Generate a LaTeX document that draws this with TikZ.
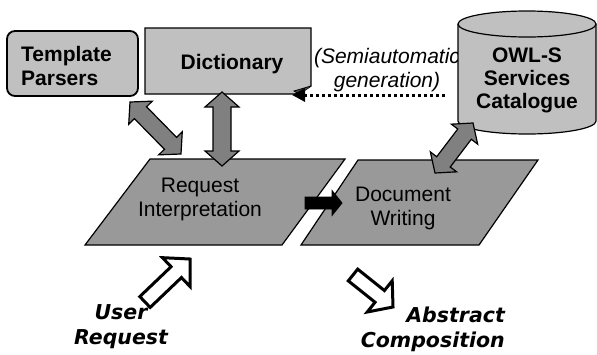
\documentclass[tikz,border=0pt]{standalone}
\usepackage{fontspec}
\setmainfont{Liberation Sans}
\newfontfamily\verafont{DejaVu Sans}
\usetikzlibrary{calc,arrows.meta}

\definecolor{lightbox}{RGB}{192,192,192}
\definecolor{paragray}{RGB}{153,153,153}
\definecolor{arrowgray}{RGB}{128,128,128}

% double block arrow: style, A, B, shaft half width, head half width, head length
\newcommand{\dblblock}[6]{%
  \draw[#1] (#2)
    -- ($(#2)!#6!(#3)!#5!90:(#3)$) -- ($(#2)!#6!(#3)!#4!90:(#3)$)
    -- ($(#3)!#6!(#2)!#4!-90:(#2)$) -- ($(#3)!#6!(#2)!#5!-90:(#2)$)
    -- (#3)
    -- ($(#3)!#6!(#2)!#5!90:(#2)$) -- ($(#3)!#6!(#2)!#4!90:(#2)$)
    -- ($(#2)!#6!(#3)!#4!-90:(#3)$) -- ($(#2)!#6!(#3)!#5!-90:(#3)$)
    -- cycle;}
% single block arrow: style, tail, tip, shaft half width, head half width, head length
\newcommand{\oneblock}[6]{%
  \draw[#1] ($(#2)!#4!90:(#3)$)
    -- ($(#3)!#6!(#2)!#4!-90:(#2)$) -- ($(#3)!#6!(#2)!#5!-90:(#2)$)
    -- (#3)
    -- ($(#3)!#6!(#2)!#5!90:(#2)$) -- ($(#3)!#6!(#2)!#4!90:(#2)$)
    -- ($(#2)!#4!-90:(#3)$) -- cycle;}

\tikzset{
  boxline/.style={draw=black, line width=1.3pt},
  graylink/.style={draw=black, fill=arrowgray, line width=1.2pt, line join=miter},
  hollowlink/.style={draw=black, fill=white, line width=3pt, line join=miter},
  blacklink/.style={draw=black, fill=black, line width=0.8pt, line join=miter},
  plain/.style={font=\fontsize{21}{24}\selectfont, inner sep=0pt, align=center},
  boldtxt/.style={font=\fontsize{21}{24}\selectfont\bfseries, inner sep=0pt},
  wideital/.style={font=\verafont\fontsize{20.5}{25}\selectfont\bfseries\itshape, inner sep=0pt},
}

\begin{document}
\begin{tikzpicture}[x=1pt, y=-1pt]
\useasboundingbox (0,0) rectangle (597,354);

% Template Parsers
\draw[boxline, line width=1.8pt, fill=lightbox, rounded corners=8pt] (7,31) rectangle (138,96);
\node[boldtxt, align=left, anchor=west] (tp) at (21,65.5) {Template\\Parsers};

% Dictionary with page curl
\draw[boxline, fill=lightbox] (145,28) -- (311,28) -- (311,86) -- (299,94) -- (145,94) -- cycle;
\fill[black!70] (311,86) -- (299,94) -- (294,91) -- cycle;
\draw[line width=0.8pt] (311,86) -- (294,91) -- (299,94);
\node[boldtxt] (dict) at (232,64) {Dictionary};
\coordinate (dictcurl) at (292,95);

% semiautomatic generation label and dotted arrow
\node[plain, font=\fontsize{21}{24}\selectfont\itshape] (semi) at (387,70) {(Semiautomatic\\generation)};
\coordinate (semistart) at (445,95);
\draw[line width=3pt, dash pattern=on 3pt off 3pt, -{Triangle[length=13pt,width=13pt]}] (semistart) -- (dictcurl);

% OWL-S cylinder
\draw[boxline, line width=1.2pt, fill=lightbox] (458,24) -- (458,121)
  arc[start angle=180, end angle=360, x radius=69pt, y radius=13pt]
  -- (596,24) arc[start angle=0, end angle=180, x radius=69pt, y radius=13pt] -- cycle;
\draw[line width=1.2pt] (458,24) arc[start angle=180, end angle=360, x radius=69pt, y radius=13pt];
\node[boldtxt, align=center, font=\fontsize{21}{23}\selectfont\bfseries] (owl) at (527,80) {OWL-S\\Services\\Catalogue};

% parallelograms
\draw[boxline, line width=1.2pt, fill=paragray] (150,159) -- (345,159) -- (282,245) -- (85,245) -- cycle;
\node[plain] (req) at (200,199) {Request\\Interpretation};
\draw[boxline, line width=1.2pt, fill=paragray] (358,160) -- (538,160) -- (479,245) -- (301,245) -- cycle;
\node[plain] (doc) at (403,208) {Document\\Writing};

% gray double arrows
\coordinate (tpA) at (130,102);
\coordinate (tpB) at (181,154);
\dblblock{graylink}{tpA}{tpB}{8.5pt}{16.5pt}{15pt}
\coordinate (dcA) at (222,92);
\coordinate (dcB) at (222,166);
\dblblock{graylink}{dcA}{dcB}{9pt}{17pt}{15pt}
\coordinate (owA) at (473,123);
\coordinate (owB) at (435,173);
\dblblock{graylink}{owA}{owB}{8.5pt}{16.5pt}{14pt}

% black arrow
\coordinate (rqE) at (305,203);
\coordinate (dcW) at (342,203);
\oneblock{blacklink}{rqE}{dcW}{6pt}{12.5pt}{10pt}

% hollow arrows
\coordinate (userT) at (145,302);
\coordinate (userH) at (190,259);
\oneblock{hollowlink}{userT}{userH}{7.5pt}{20pt}{19pt}
\coordinate (absT) at (353,275);
\coordinate (absH) at (393,307);
\oneblock{hollowlink}{absT}{absH}{7.5pt}{20pt}{17pt}

% italic labels
\node[wideital, align=center] (user) at (121,327) {User\\Request};
\node[wideital, align=right, anchor=east] (abs) at (505,329) {Abstract\\Composition};
\end{tikzpicture}
\end{document}
